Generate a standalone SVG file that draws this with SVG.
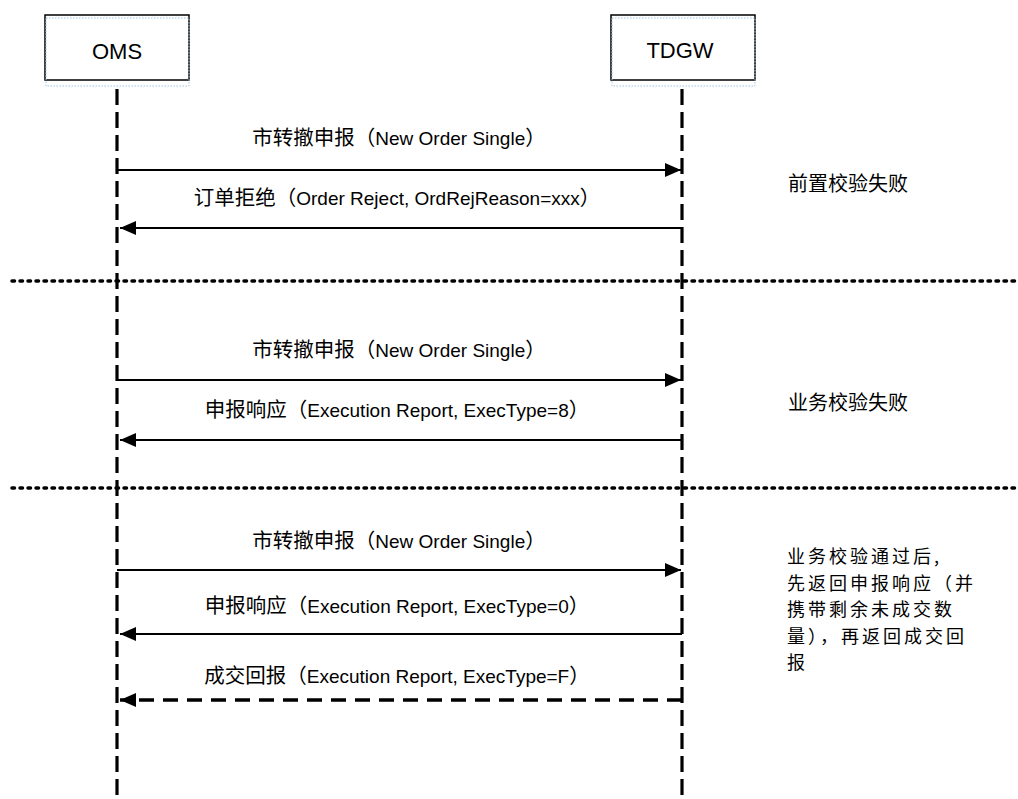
<svg xmlns="http://www.w3.org/2000/svg" width="1018" height="799" viewBox="0 0 1018 799">
<style>
.box{fill:#fff;stroke:#000;stroke-width:1.5}
.sel{fill:none;stroke:#9dc3e6;stroke-width:1;stroke-dasharray:1.5 1.5}
.life{stroke:#000;stroke-width:3.2;stroke-dasharray:16 7;fill:none}
.div{stroke:#000;stroke-width:3.5;stroke-dasharray:2.5 5.5;stroke-linecap:round;fill:none}
.msg{stroke:#000;stroke-width:2;fill:none}
.msgd{stroke:#000;stroke-width:3.5;stroke-dasharray:15 9;fill:none}
.name{font-family:"Liberation Sans","Noto Sans CJK SC",sans-serif;font-size:22px;text-anchor:middle;fill:#000}
.lbl{font-family:"Liberation Sans","Noto Sans CJK SC",sans-serif;font-size:20.5px;text-anchor:middle;fill:#000}
.lat{font-size:19px}
.note{font-family:"Noto Sans CJK SC",sans-serif;font-size:20px;fill:#000}
.note2{font-family:"Noto Sans CJK SC",sans-serif;font-size:18px;letter-spacing:3px;fill:#000}
</style>
<defs>
<marker id="ah" viewBox="0 0 16 14" refX="16" refY="7" markerWidth="16" markerHeight="14" markerUnits="userSpaceOnUse" orient="auto">
<path d="M0,0 L16,7 L0,14 Z" fill="#000"/>
</marker>
</defs>
<rect width="1018" height="799" fill="#fff"/>

<g id="oms">
<rect class="box" x="45" y="15" width="144" height="65"/>
<rect class="sel" x="46" y="18" width="143" height="68"/>
<text class="name" x="117" y="59">OMS</text>
</g>
<g id="tdgw">
<rect class="box" x="611" y="15" width="144" height="65"/>
<rect class="sel" x="612" y="18" width="143" height="68"/>
<text class="name" x="680" y="58">TDGW</text>
</g>

<g id="lifelines">
<line class="life" x1="117" y1="89" x2="117" y2="799"/>
<line class="life" x1="682" y1="89" x2="682" y2="799"/>
</g>

<g id="dividers">
<line class="div" x1="12" y1="281" x2="1018" y2="281"/>
<line class="div" x1="12" y1="488" x2="1018" y2="488"/>
</g>

<g id="connectors">
<line class="msg" x1="117" y1="170" x2="681" y2="170" marker-end="url(#ah)"/>
<line class="msg" x1="682" y1="228" x2="120" y2="228" marker-end="url(#ah)"/>
<line class="msg" x1="117" y1="380" x2="681" y2="380" marker-end="url(#ah)"/>
<line class="msg" x1="682" y1="440" x2="120" y2="440" marker-end="url(#ah)"/>
<line class="msg" x1="117" y1="570" x2="681" y2="570" marker-end="url(#ah)"/>
<line class="msg" x1="682" y1="634" x2="120" y2="634" marker-end="url(#ah)"/>
<line class="msgd" x1="682" y1="700" x2="120" y2="700" marker-end="url(#ah)"/>
</g>

<g id="labels">
<text class="lbl" x="399" y="145">市转撤申报（<tspan class="lat">New Order Single</tspan>）</text>
<text class="lbl" x="397" y="205">订单拒绝（<tspan class="lat">Order Reject, OrdRejReason=xxx</tspan>）</text>
<text class="lbl" x="399" y="357">市转撤申报（<tspan class="lat">New Order Single</tspan>）</text>
<text class="lbl" x="397" y="417">申报响应（<tspan class="lat">Execution Report, ExecType=8</tspan>）</text>
<text class="lbl" x="399" y="548">市转撤申报（<tspan class="lat">New Order Single</tspan>）</text>
<text class="lbl" x="397" y="613">申报响应（<tspan class="lat">Execution Report, ExecType=0</tspan>）</text>
<text class="lbl" x="397" y="683">成交回报（<tspan class="lat">Execution Report, ExecType=F</tspan>）</text>
</g>

<g id="notes">
<text class="note" x="788" y="191">前置校验失败</text>
<text class="note" x="788" y="410">业务校验失败</text>
<text class="note2" x="787">
<tspan x="787" y="563">业务校验通过后,</tspan>
<tspan x="787" y="589.5">先返回申报响应（并</tspan>
<tspan x="787" y="616">携带剩余未成交数</tspan>
<tspan x="787" y="642.5">量），再返回成交回</tspan>
<tspan x="787" y="669">报</tspan>
</text>
</g>
</svg>
